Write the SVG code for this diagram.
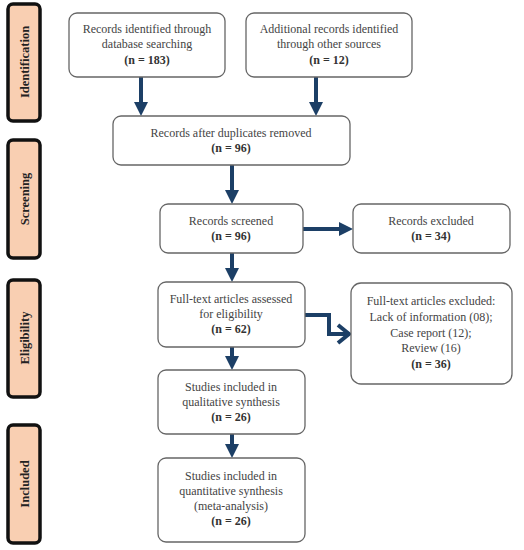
<svg xmlns="http://www.w3.org/2000/svg" width="524" height="550" viewBox="0 0 524 550">
<style>
.side{fill:#f9cfb2;stroke:#111;stroke-width:3.5}
.box{fill:#fff;stroke:#666;stroke-width:1.3}
.t{font-family:"Liberation Serif","Times New Roman",serif;font-size:12px;fill:#444;text-anchor:middle}
.b{font-weight:bold;fill:#333}
.lab{font-family:"Liberation Serif","Times New Roman",serif;font-size:12.5px;font-weight:bold;fill:#222;text-anchor:middle}
.c{stroke:#1c3f66;stroke-width:4;fill:none}
.head{fill:#1c3f66}
</style>
<rect width="524" height="550" fill="#fff"/>
<g id="side-identification"><rect class="side" x="8" y="4" width="32" height="117" rx="5"/><text class="lab" transform="translate(29,62) rotate(-90)">Identification</text></g>
<g id="side-screening"><rect class="side" x="8" y="140" width="32" height="118" rx="5"/><text class="lab" transform="translate(29,199) rotate(-90)">Screening</text></g>
<g id="side-eligibility"><rect class="side" x="8" y="280" width="32" height="117" rx="5"/><text class="lab" transform="translate(29,338) rotate(-90)">Eligibility</text></g>
<g id="side-included"><rect class="side" x="8" y="425" width="32" height="118" rx="5"/><text class="lab" transform="translate(29,484) rotate(-90)">Included</text></g>

<g id="connectors">
<line class="c" x1="141" y1="77" x2="141" y2="103"/><polygon class="head" points="134,102 148,102 141,116"/>
<line class="c" x1="316" y1="77" x2="316" y2="103"/><polygon class="head" points="309,102 323,102 316,116"/>
<line class="c" x1="232" y1="165" x2="232" y2="191"/><polygon class="head" points="225,190 239,190 232,204"/>
<line class="c" x1="303" y1="229" x2="340" y2="229"/><polygon class="head" points="339,222 339,236 353,229"/>
<line class="c" x1="232" y1="253" x2="232" y2="269"/><polygon class="head" points="225,268 239,268 232,282"/>
<polyline class="c" points="305,315 329,315 329,334 348,334"/><polyline class="c" points="338,325 349,334 338,343"/>
<line class="c" x1="232" y1="347" x2="232" y2="357"/><polygon class="head" points="225,356 239,356 232,370"/>
<line class="c" x1="232" y1="434" x2="232" y2="445"/><polygon class="head" points="225,444 239,444 232,458"/>
</g>

<g id="n1"><rect class="box" x="69" y="13" width="156" height="64" rx="8"/><text class="t" x="147" y="33">Records identified through</text><text class="t" x="147" y="48">database searching</text><text class="t b" x="147" y="64">(n = 183)</text></g>
<g id="n2"><rect class="box" x="246" y="13" width="166" height="64" rx="8"/><text class="t" x="329" y="33">Additional records identified</text><text class="t" x="329" y="48">through other sources</text><text class="t b" x="329" y="64">(n = 12)</text></g>
<g id="n3"><rect class="box" x="113" y="116" width="237" height="49" rx="8"/><text class="t" x="231" y="137">Records after duplicates removed</text><text class="t b" x="231" y="152">(n = 96)</text></g>
<g id="n4"><rect class="box" x="160" y="204" width="143" height="49" rx="8"/><text class="t" x="231" y="225">Records screened</text><text class="t b" x="231" y="240">(n = 96)</text></g>
<g id="n5"><rect class="box" x="353" y="204" width="157" height="49" rx="8"/><text class="t" x="431" y="225">Records excluded</text><text class="t b" x="431" y="240">(n = 34)</text></g>
<g id="n6"><rect class="box" x="158" y="282" width="147" height="65" rx="8"/><text class="t" x="231" y="303">Full-text articles assessed</text><text class="t" x="231" y="318">for eligibility</text><text class="t b" x="231" y="333">(n = 62)</text></g>
<g id="n7"><rect class="box" x="351" y="283" width="161" height="101" rx="10"/><text class="t" x="431" y="305">Full-text articles excluded:</text><text class="t" x="431" y="321">Lack of information (08);</text><text class="t" x="431" y="337">Case report (12);</text><text class="t" x="431" y="352">Review (16)</text><text class="t b" x="431" y="368">(n = 36)</text></g>
<g id="n8"><rect class="box" x="158" y="370" width="147" height="64" rx="8"/><text class="t" x="231" y="391">Studies included in</text><text class="t" x="231" y="406">qualitative synthesis</text><text class="t b" x="231" y="421">(n = 26)</text></g>
<g id="n9"><rect class="box" x="158" y="458" width="147" height="84" rx="8"/><text class="t" x="231" y="480">Studies included in</text><text class="t" x="231" y="495">quantitative synthesis</text><text class="t" x="231" y="510">(meta-analysis)</text><text class="t b" x="231" y="525">(n = 26)</text></g>
</svg>
